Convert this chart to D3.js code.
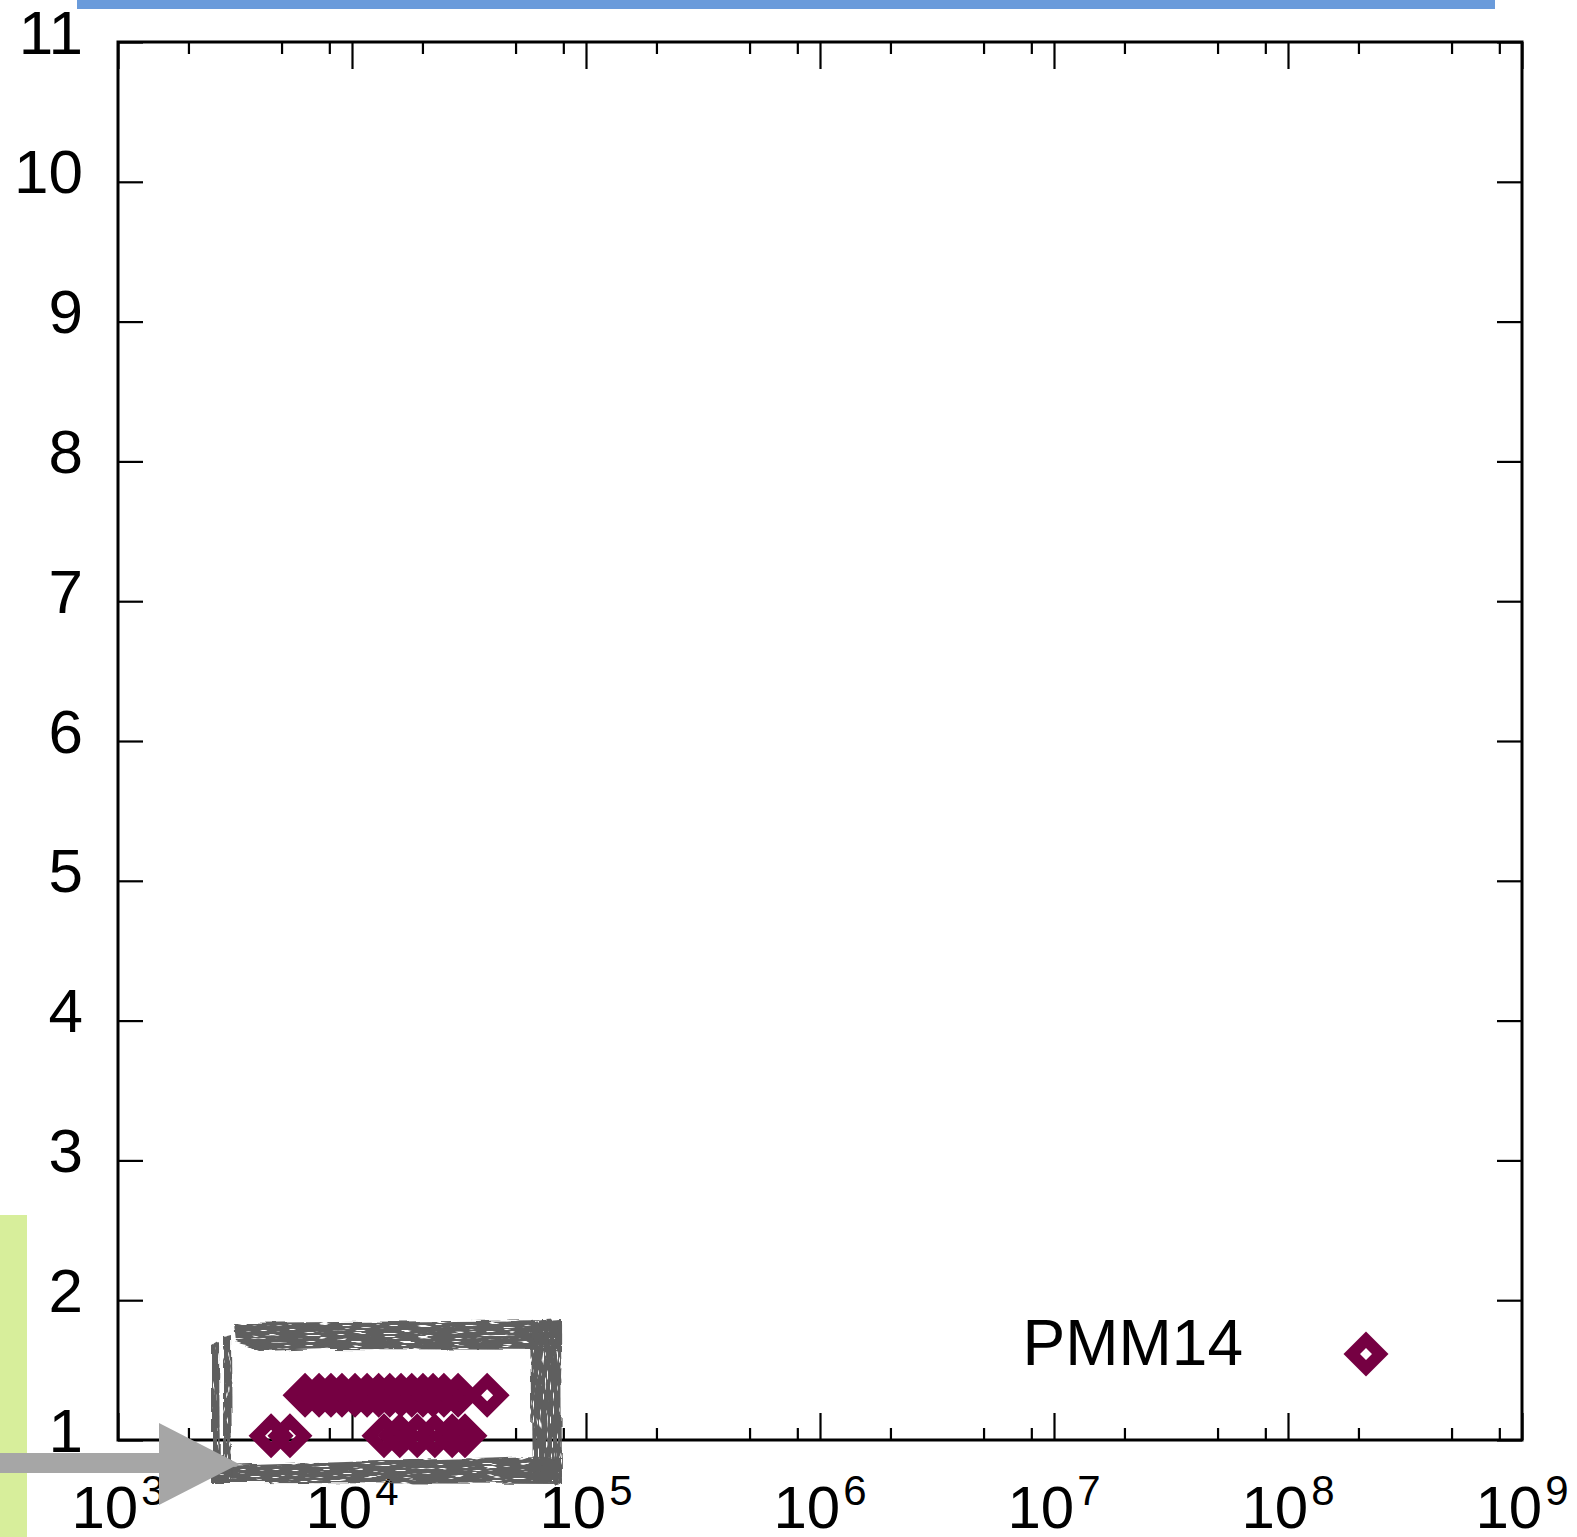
<!DOCTYPE html>
<html>
<head>
<meta charset="utf-8">
<script src="https://cdn.jsdelivr.net/npm/d3@7/dist/d3.min.js"></script>
<style>
  html, body { margin: 0; padding: 0; background: #fff; }
  svg { display: block; }
  text { font-family: "Liberation Sans", Arial, Helvetica, sans-serif; fill: #000; }
</style>
</head>
<body>
<svg id="chart" width="1577" height="1537"></svg>
<script>
// ---- data -------------------------------------------------------------
const xDecades = [1e3, 1e4, 1e5, 1e6, 1e7, 1e8, 1e9];
const xExponents = ["3", "4", "5", "6", "7", "8", "9"];
const xMinorMultipliers = [2, 5, 8];
const yTicks = [1, 2, 3, 4, 5, 6, 7, 8, 9, 10, 11];

// PMM14 runs: upper band (~1.32) and lower band (~1.03)
const upperX = [6300, 7230, 8130, 9060, 10300, 11600, 13000, 14500, 16200, 18000, 20100, 22200, 24700, 28400, 37800];
const upperY = [1.32, 1.32, 1.32, 1.32, 1.32, 1.32, 1.32, 1.32, 1.32, 1.32, 1.32, 1.32, 1.32, 1.32, 1.32];
const lowerX = [4510, 5430, 13700, 16000, 19000, 22600, 26800, 30400];
const lowerY = [1.03, 1.03, 1.03, 1.03, 1.03, 1.03, 1.03, 1.03];
const seriesName = "PMM14";

// ---- layout -----------------------------------------------------------
const svg = d3.select("#chart");
const plot = { left: 118, right: 1522, top: 42, bottom: 1440 };
const markColor = "#750042";

const x = d3.scaleLog().domain([1e3, 1e9]).range([plot.left, plot.right]);
const y = d3.scaleLinear().domain([1, 11]).range([plot.bottom, plot.top]);

const minorTicks = [];
xDecades.slice(0, -1).forEach(d => xMinorMultipliers.forEach(m => minorTicks.push(d * m)));

// ---- filters for the hand-drawn annotation box -------------------------
const defs = svg.append("defs");
function brushFilter(id, freq, speckFreq, seed) {
  const f = defs.append("filter").attr("id", id)
    .attr("x", "-10%").attr("y", "-10%").attr("width", "120%").attr("height", "120%");
  f.append("feTurbulence").attr("type", "fractalNoise").attr("baseFrequency", freq)
    .attr("numOctaves", 3).attr("seed", seed).attr("result", "n");
  f.append("feDisplacementMap").attr("in", "SourceGraphic").attr("in2", "n")
    .attr("scale", 6).attr("xChannelSelector", "R").attr("yChannelSelector", "G").attr("result", "d");
  f.append("feTurbulence").attr("type", "fractalNoise").attr("baseFrequency", speckFreq)
    .attr("numOctaves", 2).attr("seed", seed + 11).attr("result", "n2");
  f.append("feColorMatrix").attr("in", "n2").attr("type", "matrix")
    .attr("values", "0 0 0 0 0  0 0 0 0 0  0 0 0 0 0  0 0 0 -12 8.8").attr("result", "m");
  f.append("feComposite").attr("in", "d").attr("in2", "m").attr("operator", "in");
}
brushFilter("brushH", "0.03 0.2", "0.06 0.6", 4);
brushFilter("brushV", "0.2 0.03", "0.6 0.06", 9);

// ---- axes -------------------------------------------------------------
const axisStyle = g => {
  g.select(".domain").remove();
  g.selectAll(".tick line").attr("stroke", "#000").attr("stroke-width", 2.2);
  g.selectAll(".tick text").remove();
};

svg.append("g").attr("transform", `translate(0,${plot.bottom})`)
  .call(d3.axisBottom(x).tickValues(xDecades).tickSize(-27)).call(axisStyle);
svg.append("g").attr("transform", `translate(0,${plot.bottom})`)
  .call(d3.axisBottom(x).tickValues(minorTicks).tickSize(-12)).call(axisStyle);
svg.append("g").attr("transform", `translate(0,${plot.top})`)
  .call(d3.axisTop(x).tickValues(xDecades).tickSize(-27)).call(axisStyle);
svg.append("g").attr("transform", `translate(0,${plot.top})`)
  .call(d3.axisTop(x).tickValues(minorTicks).tickSize(-12)).call(axisStyle);
svg.append("g").attr("transform", `translate(${plot.left},0)`)
  .call(d3.axisLeft(y).tickValues(yTicks).tickSize(-25)).call(axisStyle);
svg.append("g").attr("transform", `translate(${plot.right},0)`)
  .call(d3.axisRight(y).tickValues(yTicks).tickSize(-25)).call(axisStyle);

svg.append("rect")
  .attr("x", plot.left).attr("y", plot.top)
  .attr("width", plot.right - plot.left).attr("height", plot.bottom - plot.top)
  .attr("fill", "none").attr("stroke", "#000").attr("stroke-width", 3);

// y tick labels
svg.append("g").selectAll("text").data(yTicks).join("text")
  .attr("x", 83).attr("y", d => y(d) + 11.5)
  .attr("text-anchor", "end").attr("font-size", 62)
  .text(d => d);

// x tick labels: 10^n
const xl = svg.append("g").selectAll("text").data(xDecades).join("text")
  .attr("x", d => x(d)).attr("y", 1528)
  .attr("text-anchor", "middle").attr("font-size", 60);
xl.append("tspan").text("10");
xl.append("tspan").attr("dx", 3).attr("dy", -23).attr("font-size", 42)
  .text((d, i) => xExponents[i]);

// ---- marks ------------------------------------------------------------
const R = 22.5, r = 6;
function diamond(cx, cy) {
  return `M${cx},${cy - R}L${cx + R},${cy}L${cx},${cy + R}L${cx - R},${cy}Z` +
         `M${cx},${cy - r}L${cx - r},${cy}L${cx},${cy + r}L${cx + r},${cy}Z`;
}
const upper = upperX.map((v, i) => ({ x: v, y: upperY[i] }));
const lower = lowerX.map((v, i) => ({ x: v, y: lowerY[i] }));
const points = upper.concat(lower);

svg.append("g").selectAll("path").data(points).join("path")
  .attr("d", d => diamond(x(d.x), y(d.y)))
  .attr("fill", markColor).attr("fill-rule", "evenodd");

// key
svg.append("text").attr("x", 1243).attr("y", 1365)
  .attr("text-anchor", "end").attr("font-size", 64).text(seriesName);
svg.append("path").attr("d", diamond(1366, 1354))
  .attr("fill", markColor).attr("fill-rule", "evenodd");

// ---- annotations ------------------------------------------------------
const box = svg.append("g").attr("fill", "#5f5f5f");
box.append("polygon").attr("filter", "url(#brushH)")
  .attr("points", "234,1323 560,1320 560,1350 330,1349 258,1351 236,1341");
box.append("polygon").attr("filter", "url(#brushV)")
  .attr("points", "530,1321 561,1319 562,1484 532,1482");
box.append("polygon").attr("filter", "url(#brushH)")
  .attr("points", "216,1466 540,1456 561,1457 561,1484 216,1483");
box.append("polygon").attr("filter", "url(#brushV)")
  .attr("points", "212,1345 219,1341 220,1482 212,1482");
box.append("polygon").attr("filter", "url(#brushV)")
  .attr("points", "223,1337 231,1335 232,1482 223,1482");

// blue bar at top and green bar at left
svg.append("rect").attr("x", 77).attr("y", 0).attr("width", 1418).attr("height", 9).attr("fill", "#6a9bdb");
svg.append("rect").attr("x", 0).attr("y", 1215).attr("width", 27).attr("height", 322).attr("fill", "#d7ee9b");

// pointing arrow
svg.append("polygon")
  .attr("points", "0,1453 159,1453 159,1423 239,1464 159,1505 159,1473 0,1473")
  .attr("fill", "#a6a6a6");
</script>
</body>
</html>
